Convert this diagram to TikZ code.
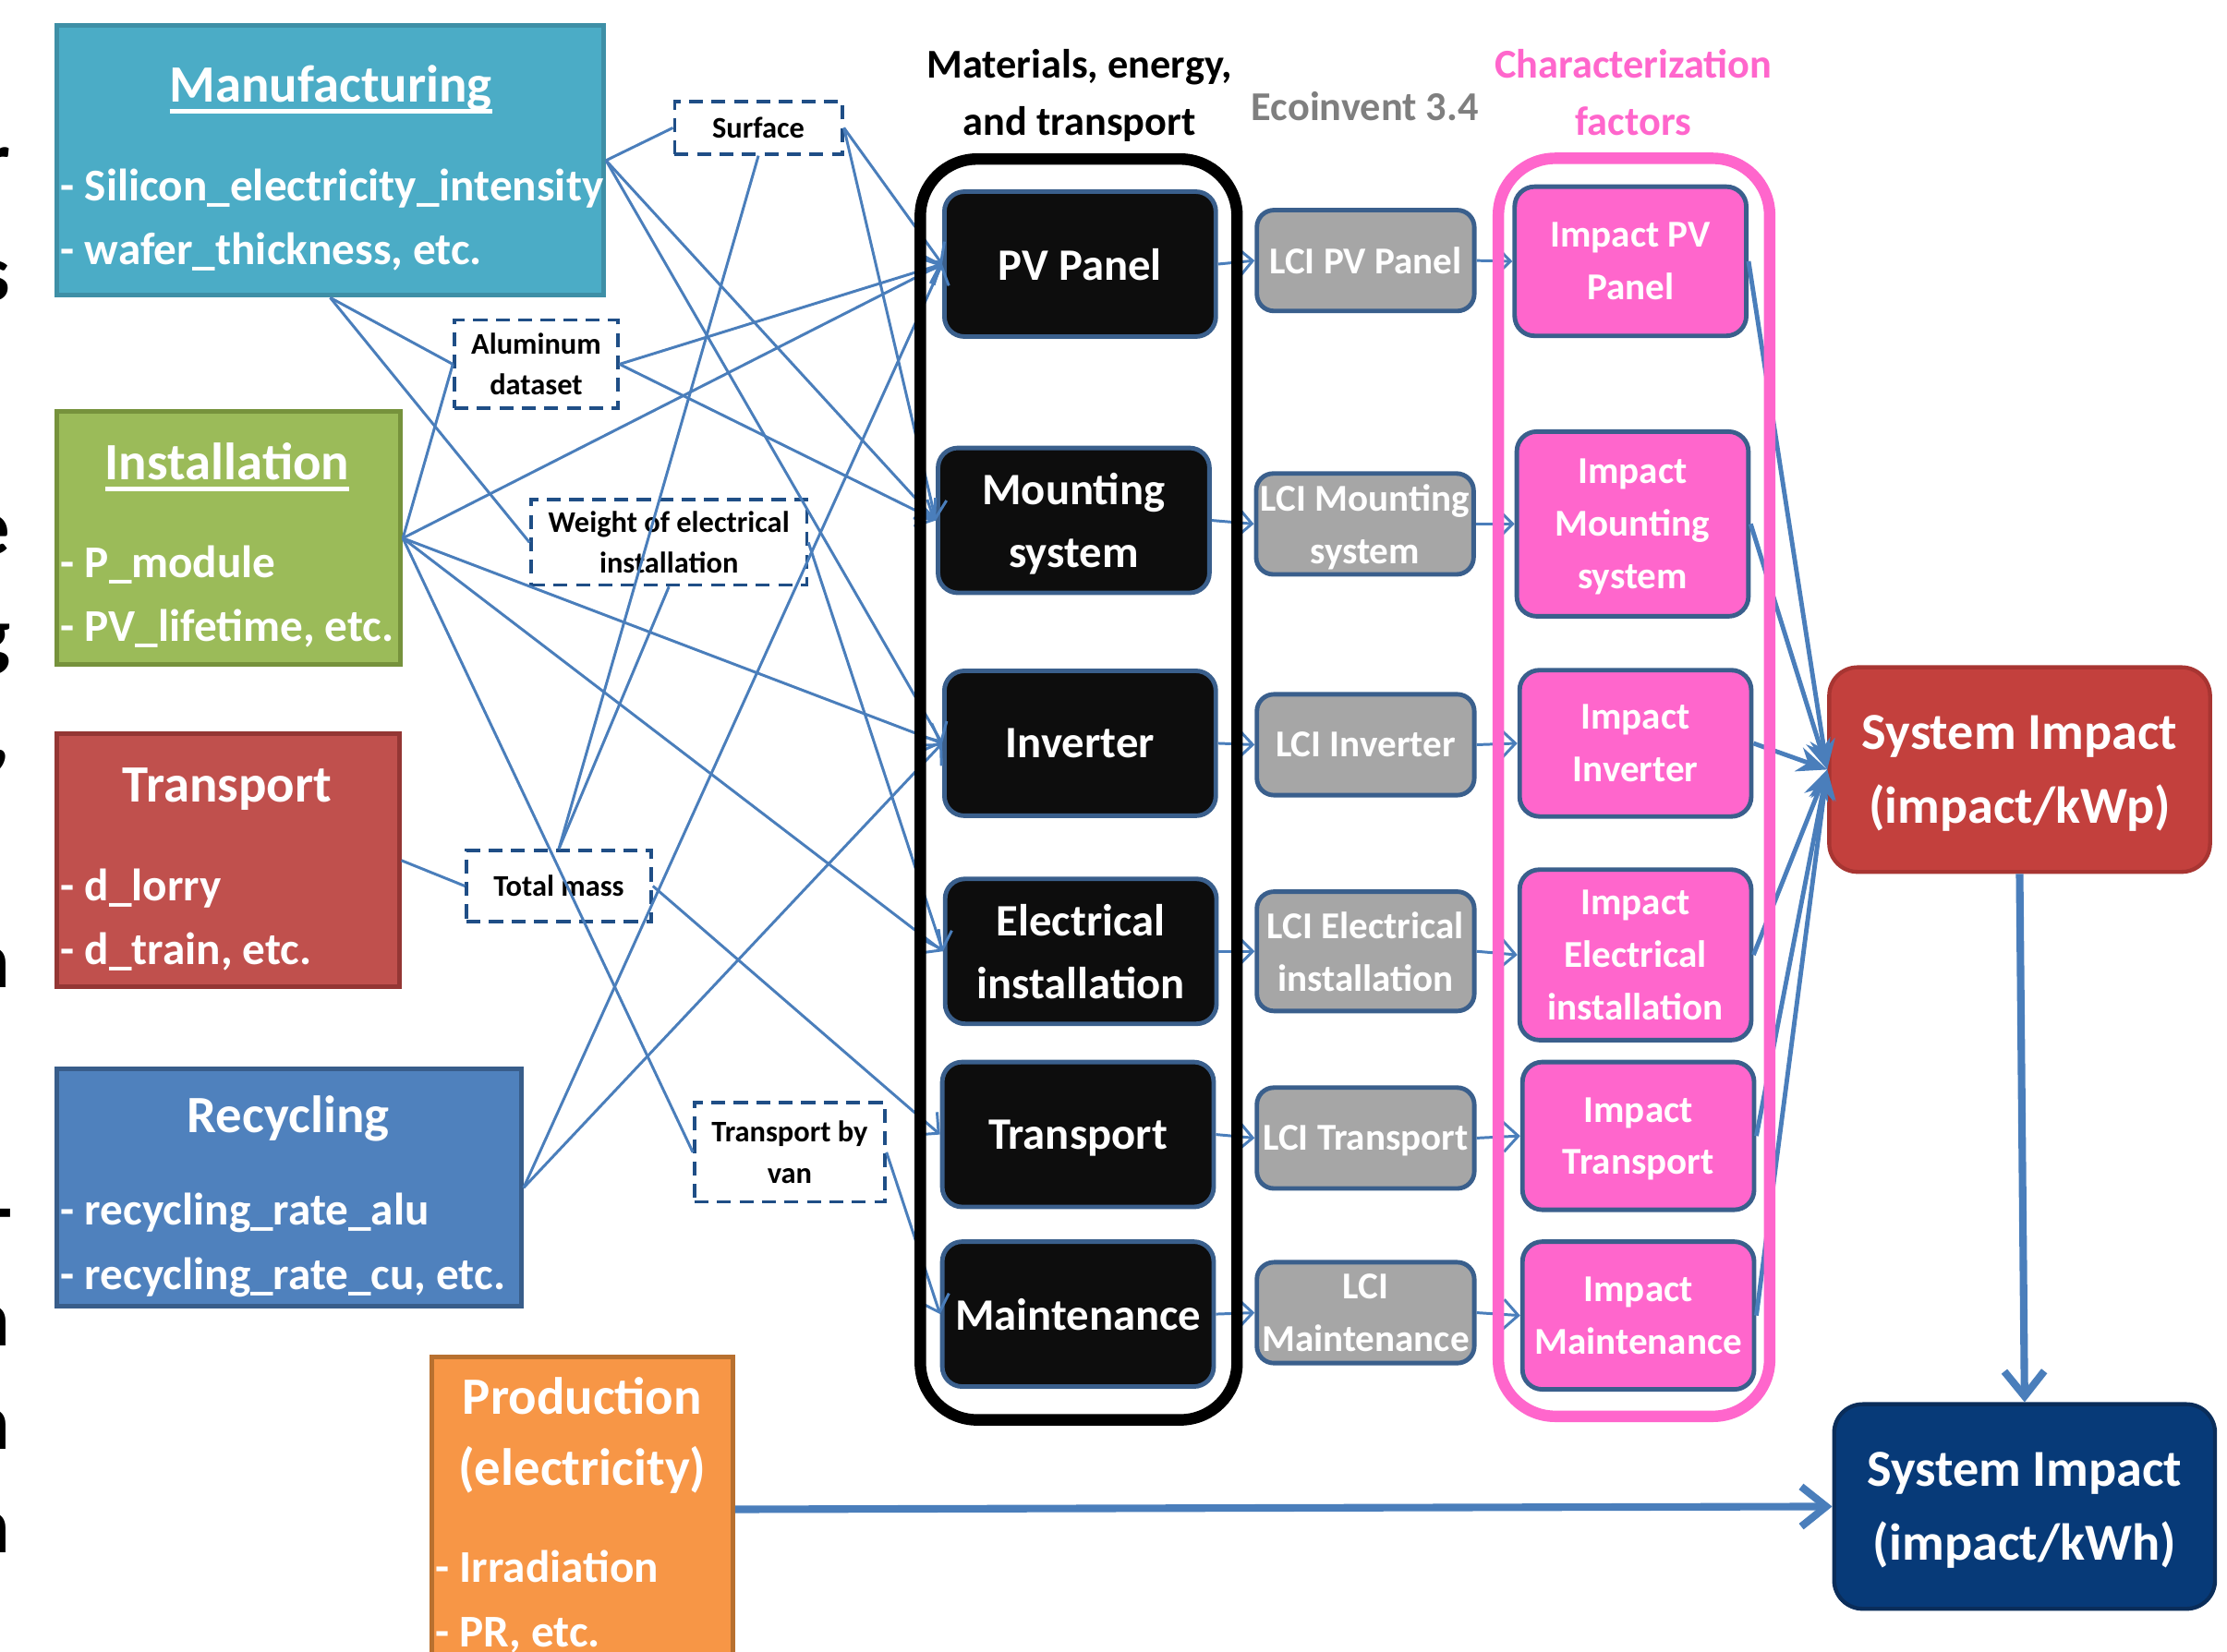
\documentclass[tikz,border=0pt]{standalone}
\usepackage{fontspec}
\setmainfont{Carlito}
\usepackage{xcolor}
\usepackage{tikz}
\usetikzlibrary{positioning, arrows.meta}

\definecolor{manufcol}{HTML}{4BACC6}
\definecolor{manufedge}{HTML}{3E8FA6}
\definecolor{instcol}{HTML}{9BBB59}
\definecolor{instedge}{HTML}{76923C}
\definecolor{transcol}{HTML}{C0504D}
\definecolor{transedge}{HTML}{943634}
\definecolor{recyccol}{HTML}{4F81BD}
\definecolor{recycedge}{HTML}{385D8A}
\definecolor{prodcol}{HTML}{F79646}
\definecolor{prodedge}{HTML}{B8702F}
\definecolor{partblack}{HTML}{0D0D0D}
\definecolor{partedge}{HTML}{3A5F8C}
\definecolor{lcigray}{HTML}{A6A6A6}
\definecolor{impactpink}{HTML}{FF66CC}
\definecolor{kwpred}{HTML}{C3403D}
\definecolor{kwpedge}{HTML}{A83532}
\definecolor{kwhnavy}{HTML}{073A78}
\definecolor{kwhedge}{HTML}{0A2D5A}
\definecolor{dashnavy}{HTML}{1F4E86}
\definecolor{linkblue}{HTML}{4A7EBB}
\definecolor{ecogray}{HTML}{7F7F7F}

\newcommand{\ftitle}{\fontsize{10.5}{14.2}\selectfont\bfseries}
\newcommand{\fitem}{\fontsize{9.1}{12.8}\selectfont\bfseries}
\newcommand{\fblack}{\fontsize{9}{12.6}\selectfont\bfseries}
\newcommand{\flci}{\fontsize{7.6}{10.5}\selectfont\bfseries}
\newcommand{\fdash}{\fontsize{6}{8.25}\selectfont\bfseries}
\newcommand{\fhead}{\fontsize{8.2}{11.4}\selectfont\bfseries}
\newcommand{\fsys}{\fontsize{10.4}{14.8}\selectfont\bfseries}
\newcommand{\fcut}{\fontsize{16}{16}\selectfont\bfseries}
\newcommand{\ultitle}[1]{\setbox0=\hbox{#1}\rlap{\rule[-2.2pt]{\wd0}{0.9pt}}\box0}

\begin{document}
\begin{tikzpicture}[x=0.01cm, y=-0.01cm]
	\tikzstyle{parambox}=[rectangle, draw, line width=0.9pt, inner sep=0pt]
	\tikzstyle{boxtitle}=[text=white, font=\ftitle, align=center, inner sep=0pt]
	\tikzstyle{boxitems}=[text=white, font=\fitem, align=left, anchor=west, inner sep=0pt]
	\tikzstyle{varbox}=[rectangle, draw=dashnavy, dash pattern=on 2.8pt off 1.7pt, line width=0.65pt, font=\fdash, align=center, inner sep=0pt]
	\tikzstyle{part}=[rectangle, rounded corners=0.14cm, draw=partedge, line width=0.9pt, fill=partblack, text=white, font=\fblack, align=center, text depth=0pt, minimum width=1.91cm, minimum height=1.02cm, inner sep=0pt]
	\tikzstyle{lci}=[rectangle, rounded corners=0.12cm, draw=partedge, line width=0.9pt, fill=lcigray, text=white, font=\flci, align=center, text depth=0pt, minimum width=1.53cm, minimum height=0.71cm, inner sep=0pt]
	\tikzstyle{impact}=[rectangle, rounded corners=0.14cm, draw=partedge, line width=0.9pt, fill=impactpink, text=white, font=\flci, align=center, text depth=0pt, minimum width=1.63cm, minimum height=1.04cm, inner sep=0pt]
	\tikzstyle{sysbox}=[rectangle, rounded corners=0.2cm, line width=0.8pt, text=white, font=\fsys, align=center, text depth=0pt, minimum width=2.68cm, minimum height=1.44cm, inner sep=0pt]
	\tikzstyle{header}=[font=\fhead, align=center, text depth=0pt, inner sep=0pt]
	\tikzstyle{cutchar}=[font=\fcut, anchor=east, inner sep=0pt]
	\tikzstyle{link}=[draw=linkblue, line width=0.55pt]
	\tikzstyle{feed}=[link, -{Straight Barb[length=3pt,width=6pt]}]
	\tikzstyle{collect}=[draw=linkblue, line width=0.9pt, -{Stealth[length=6pt,width=5pt]}]
	\tikzstyle{bigflow}=[draw=linkblue, line width=1.5pt, -{Straight Barb[length=5pt,width=8pt]}]

	\useasboundingbox (0,0) rectangle (1568,1163);

	\node[cutchar] (cut1) at (8,118) {r};
	\node[cutchar] (cut2) at (8,198) {s};
	\node[cutchar] (cut3) at (8,377) {e};
	\node[cutchar] (cut4) at (8,457) {g};
	\node[cutchar] (cut5) at (8,536) {,};
	\node[cutchar] (cut6) at (8,682) {n};
	\node[cutchar] (cut7) at (10,861) {-};
	\node[cutchar] (cut8) at (8,934) {n};
	\node[cutchar] (cut9) at (8,1007) {n};
	\node[cutchar] (cut10) at (8,1080) {n};

	\node[parambox, fill=manufcol, draw=manufedge, minimum width=3.85cm, minimum height=1.9cm] (manuf) at (232.5,113) {};
	\node[boxtitle] (manuf-title) at (233,63) {\ultitle{Manufacturing}};
	\node[boxitems] (manuf-items) at (42,155) {- Silicon\_electricity\_intensity\\- wafer\_thickness, etc.};

	\node[parambox, fill=instcol, draw=instedge, minimum width=2.42cm, minimum height=1.78cm] (inst) at (161,379) {};
	\node[boxtitle] (inst-title) at (160,329) {\ultitle{Installation}};
	\node[boxitems] (inst-items) at (42,420) {- P\_module\\- PV\_lifetime, etc.};

	\node[parambox, fill=transcol, draw=transedge, minimum width=2.41cm, minimum height=1.78cm] (trans) at (160.5,606) {};
	\node[boxtitle] (trans-title) at (160,556) {Transport};
	\node[boxitems] (trans-items) at (42,648) {- d\_lorry\\- d\_train, etc.};

	\node[parambox, fill=recyccol, draw=recycedge, minimum width=3.27cm, minimum height=1.67cm] (recyc) at (203.5,836.5) {};
	\node[boxtitle] (recyc-title) at (203,788) {Recycling};
	\node[boxitems] (recyc-items) at (42,877) {- recycling\_rate\_alu\\- recycling\_rate\_cu, etc.};

	\node[parambox, fill=prodcol, draw=prodedge, minimum width=2.12cm, minimum height=2.14cm] (prod) at (410,1063) {};
	\node[boxtitle] (prod-title) at (410,1011) {Production\\(electricity)};
	\node[boxitems] (prod-items) at (306,1128) {- Irradiation\\- PR, etc.};

	\node[varbox, minimum width=1.18cm, minimum height=0.37cm] (surface) at (534,90) {Surface};
	\node[varbox, minimum width=1.15cm, minimum height=0.62cm] (alu) at (377.5,256.5) {Aluminum\\dataset};
	\node[varbox, minimum width=1.94cm, minimum height=0.60cm] (weight) at (471,382) {Weight of electrical\\installation};
	\node[varbox, minimum width=1.30cm, minimum height=0.50cm] (mass) at (393.5,624) {Total mass};
	\node[varbox, minimum width=1.34cm, minimum height=0.70cm] (van) at (556,811.5) {Transport by\\van};

	\node[header] (head-mat) at (760,65) {Materials, energy,\\and transport};
	\node[header, text=ecogray] (head-eco) at (961,75) {Ecoinvent 3.4};
	\node[header, text=impactpink] (head-cf) at (1150,65) {Characterization\\factors};

	\node[part] (pv) at (760.5,186) {PV Panel};
	\node[part] (mount) at (756,366.5) {Mounting\\system};
	\node[part] (inv) at (760.5,523.5) {Inverter};
	\node[part] (elec) at (761,670) {Electrical\\installation};
	\node[part] (ptrans) at (759,799) {Transport};
	\node[part] (maint) at (759,925.5) {Maintenance};

	\node[lci] (lpv) at (961.5,183.5) {LCI PV Panel};
	\node[lci] (lmount) at (961,369) {LCI Mounting\\system};
	\node[lci] (linv) at (961.5,524.5) {LCI Inverter};
	\node[lci, minimum height=0.84cm] (lelec) at (961.5,670) {LCI Electrical\\installation};
	\node[lci] (ltrans) at (961.5,801.5) {LCI Transport};
	\node[lci] (lmaint) at (961.5,924.5) {LCI\\Maintenance};

	\node[impact, minimum height=1.05cm] (ipv) at (1148,184) {Impact PV\\Panel};
	\node[impact, minimum height=1.30cm] (imount) at (1149.5,369) {Impact\\Mounting\\system};
	\node[impact, minimum height=1.03cm] (iinv) at (1151.5,523.5) {Impact\\Inverter};
	\node[impact, minimum height=1.20cm] (ielec) at (1151.5,672.5) {Impact\\Electrical\\installation};
	\node[impact] (itrans) at (1153.5,800) {Impact\\Transport};
	\node[impact] (imaint) at (1153.5,926.5) {Impact\\Maintenance};

	\node[sysbox, fill=kwpred, draw=kwpedge] (kwp) at (1422,542) {System Impact\\(impact/kWp)};
	\node[sysbox, fill=kwhnavy, draw=kwhedge] (kwh) at (1425.5,1061) {System Impact\\(impact/kWh)};

	\path
		(manuf.east) edge[link] (surface.west)
		(manuf.south) edge[link] (alu.west)
		(manuf.south) edge[link] (weight.west)
		(inst.east) edge[link] (alu.west)
		(inst.east) edge[link] (van.west)
		(trans.east) edge[link] (mass.west)
		(surface.south) edge[link] (mass.north)
		(weight.south) edge[link] (mass.north);
	\path
		(manuf.east) edge[feed] (mount.west)
		(manuf.east) edge[feed] (inv.west)
		(inst.east) edge[feed] (pv.west)
		(inst.east) edge[feed] (inv.west)
		(inst.east) edge[feed] (elec.west)
		(recyc.east) edge[feed] (pv.west)
		(recyc.east) edge[feed] (inv.west)
		(surface.east) edge[feed] (pv.west)
		(surface.east) edge[feed] (mount.west)
		(alu.east) edge[feed] (pv.west)
		(alu.east) edge[feed] (mount.west)
		(weight.east) edge[feed] (elec.west)
		(mass.east) edge[feed] (ptrans.west)
		(van.east) edge[feed] (maint.west);
	\path
		(pv.east) edge[feed] (lpv.west)
		(mount.east) edge[feed] (lmount.west)
		(inv.east) edge[feed] (linv.west)
		(elec.east) edge[feed] (lelec.west)
		(ptrans.east) edge[feed] (ltrans.west)
		(maint.east) edge[feed] (lmaint.west)
		(lpv.east) edge[feed] (ipv.west)
		(lmount.east) edge[feed] (imount.west)
		(linv.east) edge[feed] (iinv.west)
		(lelec.east) edge[feed] (ielec.west)
		(ltrans.east) edge[feed] (itrans.west)
		(lmaint.east) edge[feed] (imaint.west);
	\path
		(ipv.east) edge[collect] (kwp.west)
		(imount.east) edge[collect] (kwp.west)
		(iinv.east) edge[collect] (kwp.west)
		(ielec.east) edge[collect] (kwp.west)
		(itrans.east) edge[collect] (kwp.west)
		(imaint.east) edge[collect] (kwp.west);
	\path
		(kwp.south) edge[bigflow] (kwh.north)
		(prod.east) edge[bigflow] (kwh.west);

	\draw[line width=2.3pt, rounded corners=0.4cm] (648,112) rectangle (871,1000);
	\draw[impactpink, line width=2.3pt, rounded corners=0.4cm] (1055,111.5) rectangle (1246,997.5);
\end{tikzpicture}
\end{document}
